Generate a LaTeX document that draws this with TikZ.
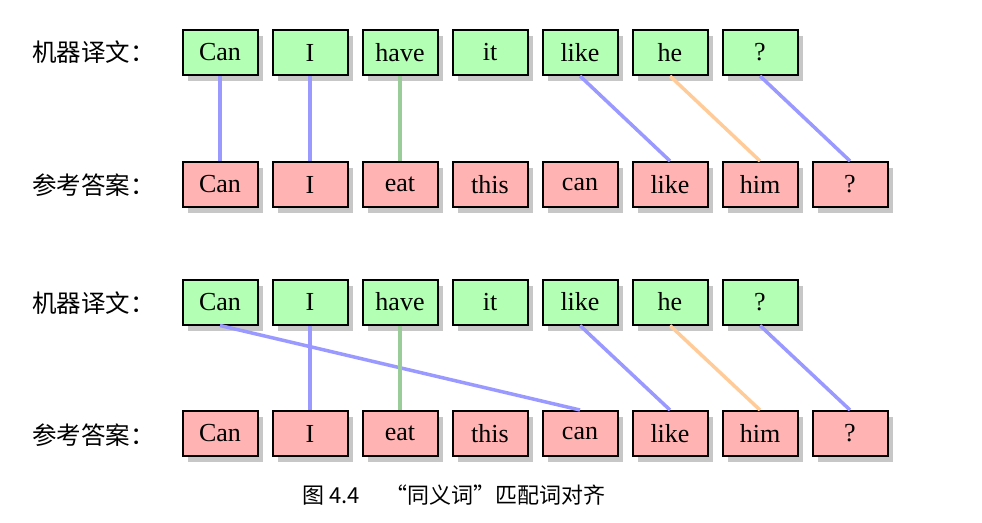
\documentclass[tikz,border=0pt]{standalone}
\usepackage{fontspec}
\setmainfont{Liberation Serif}
\newfontfamily\cjk{Noto Sans CJK SC}
\usetikzlibrary{shadows}
\definecolor{mtfill}{RGB}{179,255,179}
\definecolor{reffill}{RGB}{255,179,179}
\definecolor{lblue}{RGB}{153,153,255}
\definecolor{lgreen}{RGB}{153,204,153}
\definecolor{lorange}{RGB}{255,204,153}
\tikzset{
  wbox/.style={draw=black, line width=2pt, minimum width=75pt, minimum height=45pt, inner sep=0pt,
    font=\fontsize{26}{28}\selectfont,
    drop shadow={shadow xshift=5pt, shadow yshift=-6pt, fill=black!22, opacity=1}},
  mt/.style={wbox, fill=mtfill},
  rf/.style={wbox, fill=reffill},
  lbl/.style={anchor=west, inner sep=0pt, font=\cjk\fontsize{24.5}{26}\selectfont},
  al/.style={line width=3.5pt},
}
\begin{document}
\begin{tikzpicture}[x=1pt,y=-1pt]
\useasboundingbox (0,0) rectangle (982,522);
% ---- first figure
\node[lbl] (l1) at (32,52) {机器译文：};
\node[lbl] (l2) at (32,185) {参考答案：};
\foreach \w [count=\i] in {Can,I,have,it,like,he,?}
  \node[mt] (a\i) at ({130+90*\i},52.5) {\w};
\foreach \w [count=\i] in {Can,I,eat,this,can,like,him,?}
  \node[rf] (b\i) at ({130+90*\i},184.5) {\w};
\draw[al, lblue] (a1.south) -- (b1.north);
\draw[al, lblue] (a2.south) -- (b2.north);
\draw[al, lgreen] (a3.south) -- (b3.north);
\draw[al, lblue] (a5.south) -- (b6.north);
\draw[al, lorange] (a6.south) -- (b7.north);
\draw[al, lblue] (a7.south) -- (b8.north);
% ---- second figure
\node[lbl] (l3) at (32,303) {机器译文：};
\node[lbl] (l4) at (32,435) {参考答案：};
\foreach \w [count=\i] in {Can,I,have,it,like,he,?}
  \node[mt] (c\i) at ({130+90*\i},302) {\w};
\foreach \w [count=\i] in {Can,I,eat,this,can,like,him,?}
  \node[rf] (d\i) at ({130+90*\i},433.5) {\w};
\draw[al, lblue] (c1.south) -- (d5.north);
\draw[al, lblue] (c2.south) -- (d2.north);
\draw[al, lgreen] (c3.south) -- (d3.north);
\draw[al, lblue] (c5.south) -- (d6.north);
\draw[al, lorange] (c6.south) -- (d7.north);
\draw[al, lblue] (c7.south) -- (d8.north);
% caption
\node[inner sep=0pt, font=\cjk\fontsize{22}{24}\selectfont] (cap) at (454,495) {图 4.4\hspace{26pt}“同义词”匹配词对齐};
\end{tikzpicture}
\end{document}
